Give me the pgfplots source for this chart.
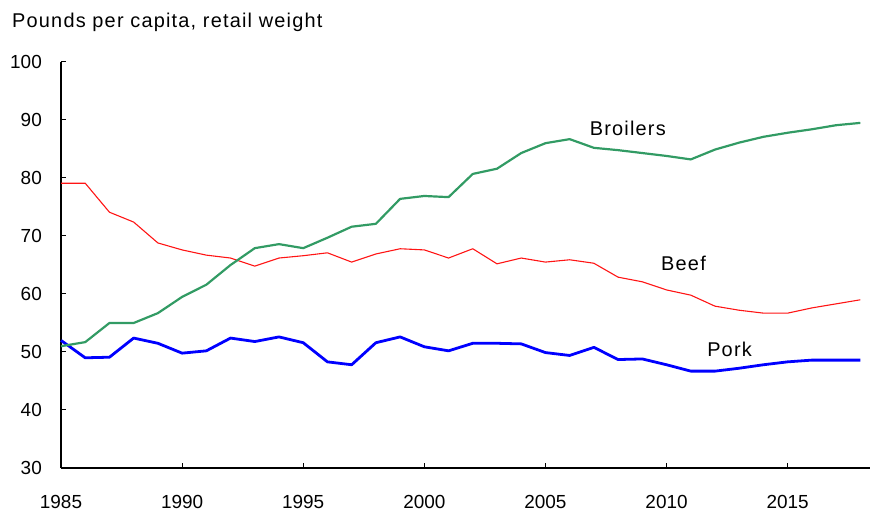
\documentclass[border=0pt]{standalone}
\usepackage{pgfplots}
\pgfplotsset{compat=1.18}
\usepackage{fontspec}
\setmainfont{Liberation Sans}
\newfontfamily\lblfont[LetterSpace=6]{Liberation Sans}
\definecolor{broiler}{RGB}{50,155,100}
\definecolor{beef}{RGB}{255,20,20}
\definecolor{pork}{RGB}{0,0,255}
\begin{document}
\begin{tikzpicture}[x=1bp,y=1bp]
\path[use as bounding box] (0,0) rectangle (870,512);
\node[anchor=base west, inner sep=0pt, font=\fontsize{20}{24}\lblfont] at (12,484) {Pounds per capita, retail weight};
\begin{axis}[
  at={(61bp,44bp)}, anchor=south west,
  scale only axis, width=809bp, height=406bp,
  xmin=1985, xmax=2018.4, ymin=30, ymax=100,
  axis x line=bottom, axis y line=left,
  axis line style={-, line width=1.2pt, black},
  tick align=inside, major tick length=5bp,
  tick style={black, line width=1pt},
  xtick={1985,1990,...,2015}, ytick={30,40,...,100},
  tick label style={font=\fontsize{19}{22}\selectfont},
  /pgf/number format/assume math mode=true,
  /pgf/number format/1000 sep={},
  xticklabel style={anchor=north, inner sep=0pt, yshift=-27bp},
  yticklabel style={anchor=east, inner sep=0pt, xshift=-19bp},
  clip=false,
]
\addplot[pork, line width=2.8pt, line join=round] coordinates {
(1985,52.0)(1986,49.0)(1987,49.1)(1988,52.4)(1989,51.5)(1990,49.8)(1991,50.2)(1992,52.4)(1993,51.8)(1994,52.6)(1995,51.6)(1996,48.3)(1997,47.8)(1998,51.6)(1999,52.6)(2000,50.9)(2001,50.2)(2002,51.5)(2003,51.5)(2004,51.4)(2005,49.9)(2006,49.4)(2007,50.8)(2008,48.7)(2009,48.8)(2010,47.8)(2011,46.7)(2012,46.7)(2013,47.2)(2014,47.8)(2015,48.3)(2016,48.6)(2017,48.6)(2018,48.6)};
\addplot[beef, line width=1.1pt, line join=round] coordinates {
(1985,79.1)(1986,79.1)(1987,74.1)(1988,72.4)(1989,68.8)(1990,67.6)(1991,66.7)(1992,66.2)(1993,64.8)(1994,66.2)(1995,66.6)(1996,67.1)(1997,65.5)(1998,66.9)(1999,67.8)(2000,67.6)(2001,66.2)(2002,67.8)(2003,65.2)(2004,66.2)(2005,65.5)(2006,65.9)(2007,65.3)(2008,62.9)(2009,62.1)(2010,60.7)(2011,59.8)(2012,57.9)(2013,57.2)(2014,56.7)(2015,56.7)(2016,57.6)(2017,58.3)(2018,59.0)};
\addplot[broiler, line width=2.2pt, line join=round] coordinates {
(1985,51.0)(1986,51.7)(1987,55.0)(1988,55.0)(1989,56.7)(1990,59.5)(1991,61.6)(1992,65.0)(1993,67.9)(1994,68.6)(1995,67.9)(1996,69.7)(1997,71.6)(1998,72.1)(1999,76.4)(2000,76.9)(2001,76.7)(2002,80.7)(2003,81.6)(2004,84.3)(2005,86.0)(2006,86.7)(2007,85.2)(2008,84.8)(2009,84.3)(2010,83.8)(2011,83.2)(2012,84.9)(2013,86.1)(2014,87.1)(2015,87.8)(2016,88.4)(2017,89.1)(2018,89.5)};
\node[font=\fontsize{20}{24}\lblfont, inner sep=0pt] at (axis cs:2008.4,88.6) {Broilers};
\node[font=\fontsize{20}{24}\lblfont, inner sep=0pt] at (axis cs:2010.7,65.2) {Beef};
\node[font=\fontsize{20}{24}\lblfont, inner sep=0pt] at (axis cs:2012.6,50.5) {Pork};
\end{axis}
\end{tikzpicture}
\end{document}
